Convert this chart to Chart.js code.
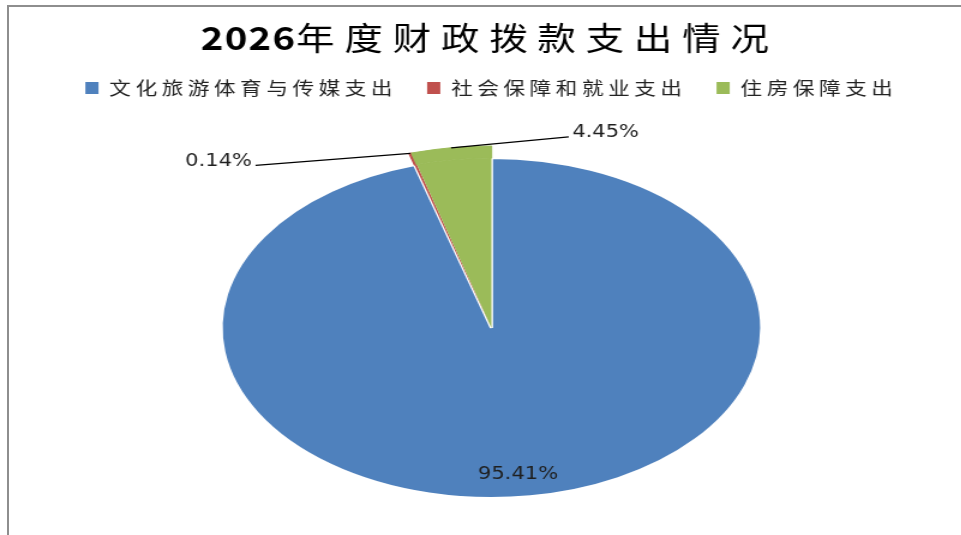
<!DOCTYPE html>
<html><head><meta charset="utf-8">
<script src="https://cdn.jsdelivr.net/npm/chart.js@4"></script>
<style>
html,body{margin:0;padding:0;background:#fff;overflow:hidden;width:961px;height:535px;}
#wrap{position:absolute;left:0;top:0;width:801px;height:560px;transform:scaleX(1.2);transform-origin:0 0;}
#frame{position:absolute;left:7px;top:5px;width:960px;height:600px;border-left:2px solid #8e8e8e;border-top:2px solid #8e8e8e;pointer-events:none;}
canvas{display:block;}
</style></head><body>
<div id="wrap"><canvas id="c" width="801" height="560" style="width:801px;height:560px"></canvas></div>
<div id="frame"></div>
<script>
// ---- data ----
const titleText = '2026年度财政拨款支出情况';
const categories = ['文化旅游体育与传媒支出', '社会保障和就业支出', '住房保障支出'];
const shares = [95.41, 0.14, 4.45];

// ---- style ----
const sliceColors = ['#4F81BD', '#C0504D', '#9BBB59'];
const RAISED = [1, 2];          // small slices drawn slightly larger
const RADIUS = 170, RIM = 12;
const PIE_STRETCH = 1.325;      // horizontal ellipse factor of the pie
const INSIDE_F = 0.87;
const LEADERS = {1: [-129, 12], 2: [98, -11]};
const LEGEND_SPACING = '3.8px';

const ellipsePlugin = {
  id: 'ellipse',
  beforeLayout(chart) { chart.ctx.letterSpacing = LEGEND_SPACING; },
  beforeDraw(chart) { chart.ctx.letterSpacing = LEGEND_SPACING; },
  beforeDatasetsDraw(chart) {
    const ctx = chart.ctx;
    const cx = (chart.chartArea.left + chart.chartArea.right) / 2;
    ctx.save();
    ctx.letterSpacing = '0px';
    ctx.translate(cx, 0); ctx.scale(PIE_STRETCH, 1); ctx.translate(-cx, 0);
  },
  afterDatasetsDraw(chart) { chart.ctx.restore(); },
  afterDraw(chart) {
    const ctx = chart.ctx;
    // title, laid out glyph by glyph (bold digits, regular CJK)
    ctx.save();
    ctx.letterSpacing = '0px';
    ctx.textBaseline = 'middle'; ctx.textAlign = 'left'; ctx.fillStyle = '#000';
    const chars = Array.from(titleText);
    const runs = chars.map(ch => {
      const digit = /[0-9]/.test(ch);
      const font = digit ? 'bold 32px "Noto Sans CJK SC"' : '32px "Noto Sans CJK SC"';
      ctx.font = font;
      return {ch, font, w: ctx.measureText(ch).width, sp: digit ? 1 : 8.2};
    });
    let totalW = 0;
    runs.forEach((r, i) => { totalW += r.w + (i < runs.length - 1 ? r.sp : 0); });
    let x = chart.width / 2 + 3.5 - totalW / 2;
    const ty = 38;
    runs.forEach(r => { ctx.font = r.font; ctx.fillText(r.ch, x, ty); x += r.w + r.sp; });
    ctx.restore();

    // data labels
    const inner = chart.getDatasetMeta(1).data;
    const rim = chart.getDatasetMeta(0).data;
    const total = shares.reduce((a, b) => a + b, 0);
    ctx.save();
    ctx.letterSpacing = '0px';
    ctx.font = '17.5px "DejaVu Sans"';
    ctx.fillStyle = '#1f1f1f';
    ctx.strokeStyle = '#000';
    ctx.lineWidth = 1.3;
    inner.forEach((arc, i) => {
      const mid = (arc.startAngle + arc.endAngle) / 2;
      const txt = (shares[i] / total * 100).toFixed(2) + '%';
      const px = r => arc.x + Math.cos(mid) * r * PIE_STRETCH;
      const py = r => arc.y + Math.sin(mid) * r;
      if (LEADERS[i]) {
        const r = RAISED.includes(i) ? rim[i].outerRadius : arc.outerRadius;
        const ax = px(r), ay = py(r);
        const [dx, dy] = LEADERS[i];
        const ex = ax + dx, ey = ay + dy;
        ctx.beginPath(); ctx.moveTo(ax, ay); ctx.lineTo(ex, ey); ctx.stroke();
        ctx.textBaseline = 'middle';
        ctx.textAlign = dx < 0 ? 'right' : 'left';
        ctx.fillText(txt, ex + (dx < 0 ? -3 : 3), ey - 4);
      } else {
        ctx.textAlign = 'center'; ctx.textBaseline = 'middle';
        ctx.fillText(txt, px(arc.outerRadius * INSIDE_F) - 6, py(arc.outerRadius * INSIDE_F));
      }
    });
    ctx.restore();
  }
};

const transparent = 'rgba(0,0,0,0)';
new Chart(document.getElementById('c'), {
  type: 'pie',
  data: {
    labels: categories,
    datasets: [
      {
        data: shares,
        backgroundColor: sliceColors.map((c, i) => RAISED.includes(i) ? c : transparent),
        borderColor: sliceColors.map((c, i) => RAISED.includes(i) ? c : transparent),
        borderWidth: 1,
        weight: RIM,
        radius: RADIUS + RIM,
        clip: false
      },
      {
        data: shares,
        backgroundColor: sliceColors,
        borderColor: '#ffffff',
        borderWidth: [2, 0, 0],
        weight: RADIUS,
        radius: RADIUS + RIM,
        clip: false
      }
    ]
  },
  options: {
    responsive: false,
    animation: false,
    devicePixelRatio: 1,
    layout: {padding: {top: 54, left: 18, right: 0, bottom: 11}},
    plugins: {
      title: {display: false},
      tooltip: {enabled: false},
      legend: {
        position: 'top',
        labels: {
          font: {family: '"Noto Sans CJK SC"', size: 18},
          color: '#222',
          boxWidth: 11,
          boxHeight: 12,
          padding: 25,
          generateLabels() {
            return categories.map((t, i) => ({
              text: t, fillStyle: sliceColors[i], strokeStyle: sliceColors[i],
              lineWidth: 0, hidden: false, index: i, fontColor: '#222'
            }));
          }
        }
      }
    }
  },
  plugins: [ellipsePlugin]
});
</script>
</body></html>
